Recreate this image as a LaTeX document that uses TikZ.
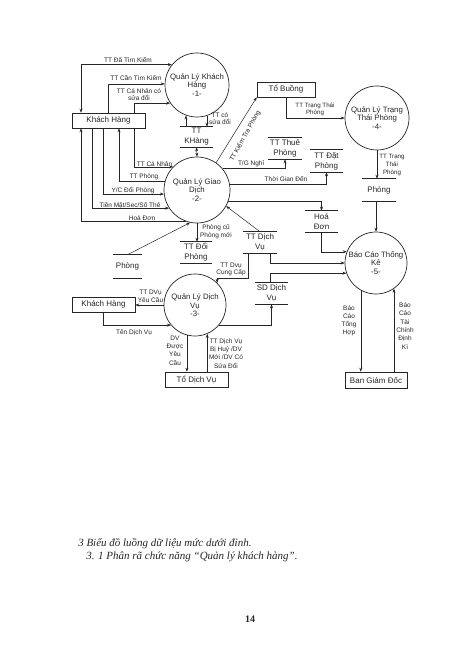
\documentclass[tikz,border=0pt]{standalone}
\usepackage{fontspec}
\setmainfont{Liberation Sans}
\newfontfamily\capfont{Liberation Serif}
\usetikzlibrary{arrows.meta,calc}
\begin{document}
\begin{tikzpicture}[x=1pt,y=-1pt,
  line width=0.5pt, draw=black!85, text=black!85,
  >={Stealth[length=4pt,width=3pt]},
  proc/.style={circle,draw,line width=0.7pt,inner sep=0pt,align=center,font=\fontsize{7.8}{8.6}\selectfont},
  ent/.style={draw,line width=0.6pt,inner sep=0pt,font=\fontsize{8}{9}\selectfont},
  dstore/.style={inner sep=0pt,align=center,font=\fontsize{8}{10}\selectfont},
  lbl/.style={inner sep=0pt,align=center,font=\fontsize{6.5}{8}\selectfont},
]
\useasboundingbox (0,0) rectangle (474,652);
\fill[white] (0,0) rectangle (474,652);

% processes
\node[proc,minimum size=64] (p1) at (197,85) {Quản Lý Khách\\Hàng\\-1-};
\node[proc,minimum size=66] (p2) at (197,190) {Quản Lý Giao\\Dịch\\-2-};
\node[proc,minimum size=62] (p3) at (195,305) {\\[-2pt]Quản Lý Dịch\\Vụ\\-3-};
\node[proc,minimum size=64] (p4) at (377,118) {Quản Lý Trạng\\Thái Phòng\\-4-};
\node[proc,minimum size=62] (p5) at (376,263) {Báo Cáo Thống\\Kê\\-5-};

% entities
\node[ent,minimum width=73,minimum height=15] (kh1) at (108.5,120.5) {Khách Hàng};
\node[ent,minimum width=58,minimum height=15] (tb) at (286,89.5) {Tổ Buồng};
\node[ent,minimum width=63,minimum height=15] (kh2) at (103.5,304.5) {Khách Hàng};
\node[ent,minimum width=63,minimum height=15] (tdv) at (196.5,379.5) {Tổ Dịch Vụ};
\node[ent,minimum width=62,minimum height=16] (bgd) at (376,380) {Ban Giám Đốc};

% data stores
\node[dstore,minimum width=33,minimum height=20] (skh) at (196.5,137) {TT\\KHàng};
\node[dstore,minimum width=34,minimum height=21] (sthue) at (285,148.5) {TT Thuê\\Phòng};
\node[dstore,minimum width=33,minimum height=22] (sdat) at (326.5,161) {TT Đặt\\Phòng};
\node[dstore,minimum width=34,minimum height=22] (sph4) at (379,190) {Phòng};
\node[dstore,minimum width=33,minimum height=21] (shd) at (321.5,221.5) {Hoá\\Đơn};
\node[dstore,minimum width=32,minimum height=21] (sdoi) at (196,252.5) {TT Đổi\\Phòng};
\node[dstore,minimum width=34,minimum height=21] (stdv) at (260,242.5) {TT Dịch\\Vụ};
\node[dstore,minimum width=29,minimum height=23] (sph) at (127.5,266.5) {Phòng};
\node[dstore,minimum width=33,minimum height=21] (ssd) at (271.5,293.5) {SD Dịch\\Vụ};
\foreach \s in {skh,sthue,sdat,sph4,shd,sdoi,stdv,sph,ssd}
  {\draw[line width=0.6pt] (\s.north west) -- (\s.north east) (\s.south west) -- (\s.south east);}

% helper x positions
\coordinate (v81) at (81,0);
\coordinate (v92) at (92,0);
\coordinate (v103) at (103,0);
\coordinate (v108) at (108,0);
\coordinate (v119) at (119,0);
\coordinate (v134) at (134,0);
\coordinate (v248) at (248,0);
\coordinate (v270) at (270,0);

% process 1 flows
\draw[<->] (kh1.north -| v81) |- (p1.141);
\draw[->] (kh1.north -| v108) |- (p1.178);
\draw[->] (kh1.north -| v134) |- (p1.214);
\draw[->] (p1.250 |- skh.north) -- (p1.250);
\draw[->] (p1.288) -- (p1.288 |- skh.north);
\draw[<->] (skh.south) -- (p2.north);

% process 2 flows
\draw[->] (p2.55) -- (tb.south west);
\draw[->] (p2.40) -| (sthue.south);
\draw[->] (p2.10) -| (sdat.south);
\draw[->] (p2.340) -| (shd.north);
\draw[->] (stdv.north) -- (p2.331);
\draw[->] (sph.north) -- (p2.258);
\draw[->] (p2.south) -- (p2.south |- sdoi.north);
\draw[->] (kh1.south -| v134) |- (p2.136);
\draw[->] (p2.164) -| (kh1.south -| v119);
\draw[->] (kh1.south -| v103) |- (p2.187);
\draw[->] (kh1.south -| v92) |- (p2.213);
\draw[->] (p2.250) -| (kh1.south -| v81);

% process 4 flows
\draw[->] (tb.south) |- (p4.west);
\draw[->] (p4.south) -- (p4.south |- sph4.north);
\draw[->] (p5.north |- sph4.south) -- (p5.north);

% process 5 flows
\draw[->] (shd.south) |- (p5.159);
\draw[->] (stdv.south -| v270) |- (p5.west);
\draw[->] (ssd.north -| v270) |- (p5.199);
\draw[->] (p5.241) -- (p5.241 |- bgd.north);
\draw[->] (p5.305 |- bgd.north) -- (p5.305);

% process 3 flows
\draw[->] (stdv.south -| v248) |- ([yshift=5pt]p3.45) -- (p3.45);
\draw[->] (p3.west) -- (p3.west -| kh2.east);
\draw[->] (kh2.south) |- (p3.220);
\draw[->] (p3.320) -| (ssd.south);
\draw[->] (p3.255) -- (p3.255 |- tdv.north);
\draw[->] (p3.293 |- tdv.north) -- (p3.293);

% labels
\node[lbl] (l1) at (128,60) {TT Đã Tìm Kiếm};
\node[lbl] (l2) at (136,78) {TT Cần Tìm Kiếm};
\node[lbl,font=\fontsize{6.5}{7}\selectfont] (l3) at (139,94.5) {TT Cá Nhân có\\sửa đổi};
\node[lbl,font=\fontsize{6.5}{7}\selectfont] (l4) at (220,118.5) {TT có\\sửa đổi};
\node[lbl,rotate=61] (l5) at (245,136) {TT Kiểm Tra Phòng};
\node[lbl,font=\fontsize{6.2}{6.8}\selectfont] (l6) at (315,109.5) {TT Trạng Thái\\Phòng};
\node[lbl,font=\fontsize{6.2}{7.8}\selectfont] (l7) at (392,165) {TT Trạng\\Thái\\Phòng};
\node[lbl] (l8) at (251,164) {T/G Nghỉ};
\node[lbl] (l9) at (286,179) {Thời Gian Đến};
\node[lbl] (l10) at (154.5,164) {TT Cá Nhân};
\node[lbl] (l11) at (144,177) {TT Phòng};
\node[lbl] (l12) at (133,191) {Y/C Đổi Phòng};
\node[lbl] (l13) at (130,205.5) {Tiền Mặt/Sec/Số Thẻ};
\node[lbl] (l14) at (142,218.5) {Hoá Đơn};
\node[lbl] (l15) at (216,232) {Phòng cũ\\Phòng mới};
\node[lbl,font=\fontsize{6.5}{7}\selectfont] (l16) at (231,269.5) {TT Dvụ\\Cung Cấp};
\node[lbl] (l17) at (150.5,296) {TT DVụ\\Yêu Cầu};
\node[lbl] (l18) at (134,333) {Tên Dịch Vụ};
\node[lbl,font=\fontsize{6.5}{8.3}\selectfont] (l19) at (175,350.5) {DV\\Được\\Yêu\\Cầu};
\node[lbl,font=\fontsize{6.5}{8.3}\selectfont] (l20) at (226,353.5) {TT Dịch Vụ\\Bị Huỷ /DV\\Mới /DV Có\\Sửa Đổi};
\node[lbl,font=\fontsize{6.5}{8}\selectfont] (l21) at (349,321) {Báo\\Cáo\\Tổng\\Hợp};
\node[lbl,font=\fontsize{6.5}{8.4}\selectfont] (l22) at (405,326) {Báo\\Cáo\\Tài\\Chính\\Định\\Kì};

% caption
\node[anchor=west,inner sep=0pt,font=\capfont\itshape\fontsize{11}{13}\selectfont] (c1) at (78,544) {3 Biểu đồ luồng dữ liệu mức dưới đỉnh.};
\node[anchor=west,inner sep=0pt,font=\capfont\itshape\fontsize{11}{13}\selectfont] (c2) at (86,557) {3. 1 Phân rã chức năng “Quản lý khách hàng”.};
\node[inner sep=0pt,font=\capfont\bfseries\fontsize{10}{12}\selectfont] (pg) at (250,619) {14};
\end{tikzpicture}
\end{document}
